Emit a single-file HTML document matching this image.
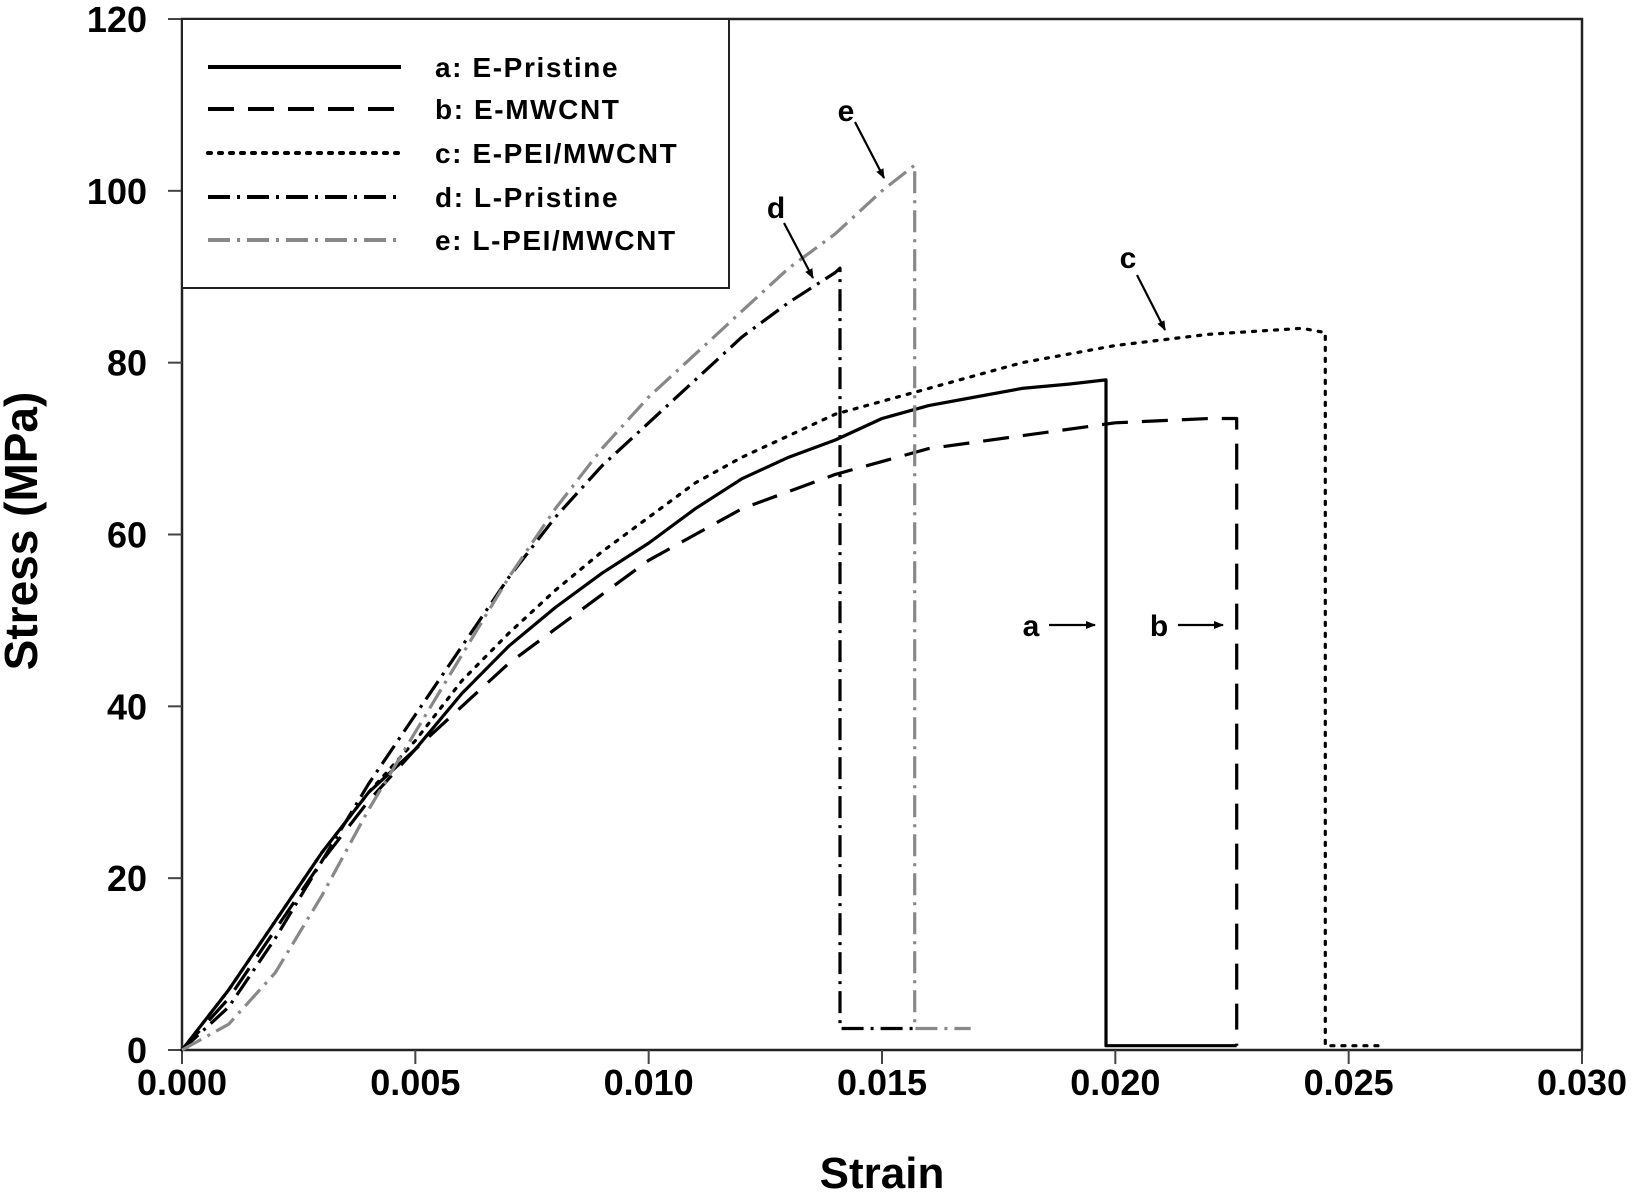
<!DOCTYPE html>
<html><head><meta charset="utf-8"><style>
html,body{margin:0;padding:0;background:#fff;}
svg text{font-family:"Liberation Sans",Arial,sans-serif;font-weight:bold;fill:#000;}
</style></head><body>
<svg id="chart" width="1634" height="1192" viewBox="0 0 1634 1192" xmlns="http://www.w3.org/2000/svg">
<g id="plot"></g>
</svg>
<script>
const xTicks=[0,0.005,0.010,0.015,0.020,0.025,0.030];
const xTickLabels=["0.000","0.005","0.010","0.015","0.020","0.025","0.030"];
const yTicks=[0,20,40,60,80,100,120];
const yTickLabels=["0","20","40","60","80","100","120"];
const seriesNames=["a: E-Pristine","b: E-MWCNT","c: E-PEI/MWCNT","d: L-Pristine","e: L-PEI/MWCNT"];
const aStrain=[0,0.001,0.002,0.003,0.004,0.005,0.006,0.007,0.008,0.009,0.010,0.011,0.012,0.013,0.014,0.015,0.016,0.017,0.018,0.019,0.0198,0.0198,0.0226];
const aStress=[0,7,15,23,30,35,41.5,47,51.5,55.5,59,63,66.5,69,71,73.5,75,76,77,77.5,78,0.5,0.5];
const bStrain=[0,0.001,0.002,0.003,0.004,0.005,0.006,0.007,0.008,0.009,0.010,0.011,0.012,0.013,0.014,0.016,0.018,0.020,0.022,0.0226,0.0226];
const bStress=[0,6,14,22,29,35,40,45,49,53,57,60,63,65,67,70,71.5,73,73.5,73.5,0.5];
const cStrain=[0,0.001,0.002,0.003,0.004,0.005,0.006,0.007,0.008,0.009,0.010,0.011,0.012,0.013,0.014,0.016,0.018,0.020,0.022,0.024,0.0245,0.0245,0.0257];
const cStress=[0,7,15,23,30,36,43,48.5,53.5,58,62,66,69,71.5,74,77,80,82,83.3,84,83.5,0.5,0.5];
const dStrain=[0,0.001,0.002,0.003,0.004,0.005,0.006,0.007,0.008,0.009,0.010,0.011,0.012,0.013,0.014,0.0141,0.0141,0.0157];
const dStress=[0,5,13,22,31,39,47,55,62,68,73,78,83,87,90.5,91,2.5,2.5];
const eStrain=[0,0.001,0.002,0.003,0.004,0.005,0.006,0.007,0.008,0.009,0.010,0.011,0.012,0.013,0.014,0.015,0.0157,0.0157,0.0169];
const eStress=[0,3,9,18,28,37,46,55,63,70,76,81,86,91,95,100,103,2.5,2.5];

const NS="http://www.w3.org/2000/svg";
const X0=182,X1=1582,Y0=1050,Y1=19;
const xs=s=>X0+s/0.03*(X1-X0);
const ys=v=>Y0-v/120*(Y0-Y1);
const g=document.getElementById('plot');
function mk(tag,attrs){const e=document.createElementNS(NS,tag);for(const k in attrs)e.setAttribute(k,attrs[k]);g.appendChild(e);return e;}

const frame=mk('rect',{x:X0,y:Y1,width:X1-X0,height:Y0-Y1,fill:'none',stroke:'#222','stroke-width':2.5});



xTicks.forEach((t,i)=>{
  const l=mk('line',{x1:xs(t),x2:xs(t),y1:Y0,y2:Y0+14,stroke:'#444','stroke-width':2});
  
  
  const tx=mk('text',{x:xs(t),y:Y0+45,'font-size':36,'text-anchor':'middle'});
  tx.textContent=xTickLabels[i];
  
  
});
yTicks.forEach((t,i)=>{
  const l=mk('line',{x1:X0-14,x2:X0,y1:ys(t),y2:ys(t),stroke:'#444','stroke-width':2});
  
  
  const tx=mk('text',{x:X0-35,y:ys(t)+13,'font-size':36,'text-anchor':'end'});
  tx.textContent=yTickLabels[i];
  
  
});
const xt=mk('text',{x:882,y:1188,'font-size':44,'text-anchor':'middle'});
xt.textContent='Strain';


const yt=mk('text',{x:0,y:0,'font-size':46,'text-anchor':'middle',transform:'translate(37,531) rotate(-90)'});
yt.textContent='Stress (MPa)';



const styles=[
 {stroke:'#000',dash:'',w:3.2},
 {stroke:'#000',dash:'26 14',w:3.2},
 {stroke:'#000',dash:'3 8',w:3.2,cap:'round'},
 {stroke:'#000',dash:'22 7 3 7',w:3.2},
 {stroke:'#888',dash:'22 7 3 7',w:3.2}
];
const sx=[aStrain,bStrain,cStrain,dStrain,eStrain],sy=[aStress,bStress,cStress,dStress,eStress];
const ids=['series-a-e-pristine','series-b-e-mwcnt','series-c-e-pei-mwcnt','series-d-l-pristine','series-e-l-pei-mwcnt'];
sx.forEach((arr,i)=>{
  const d=arr.map((s,j)=>(j?'L':'M')+xs(s).toFixed(1)+' '+ys(sy[i][j]).toFixed(1)).join(' ');
  const p=mk('path',{d:d,fill:'none',stroke:styles[i].stroke,'stroke-width':styles[i].w,'stroke-dasharray':styles[i].dash,'stroke-linecap':styles[i].cap||'butt','stroke-linejoin':'round'});
  
  
});

// legend
const lg=mk('rect',{x:X0,y:Y1,width:547,height:269,fill:'#fff',stroke:'#222','stroke-width':2});


const ly=[67,109,153,197,240];
seriesNames.forEach((n,i)=>{
  const l=mk('line',{x1:208,x2:401,y1:ly[i],y2:ly[i],stroke:styles[i].stroke,'stroke-width':styles[i].w+0.8,'stroke-dasharray':styles[i].dash,'stroke-linecap':styles[i].cap||'butt'});
  
  
  const t=mk('text',{x:435,y:ly[i]+10,'font-size':28,'letter-spacing':1.6});
  t.textContent=n;
  
  
});

// annotations
const ann=[
 {t:'e',tx:846,ty:121,x1:855,y1:122,x2:884,y2:178},
 {t:'d',tx:776,ty:218,x1:784,y1:223,x2:813,y2:278},
 {t:'c',tx:1128,ty:268,x1:1137,y1:275,x2:1165,y2:330},
 {t:'a',tx:1031,ty:636,x1:1049,y1:625,x2:1095,y2:625},
 {t:'b',tx:1159,ty:636,x1:1178,y1:625,x2:1223,y2:625}
];
const defs=document.createElementNS(NS,'defs');
defs.innerHTML='<marker id="ah" markerWidth="10" markerHeight="8" refX="9" refY="4" orient="auto" markerUnits="userSpaceOnUse"><path d="M0 0 L10 4 L0 8 z" fill="#000"/></marker>';
document.getElementById('chart').appendChild(defs);
ann.forEach(a=>{
  const t=mk('text',{x:a.tx,y:a.ty,'font-size':30,'text-anchor':'middle'});
  t.textContent=a.t;
  
  
  const l=mk('line',{x1:a.x1,y1:a.y1,x2:a.x2,y2:a.y2,stroke:'#000','stroke-width':2.2,'marker-end':'url(#ah)'});
  
  
});
</script>
</body></html>
